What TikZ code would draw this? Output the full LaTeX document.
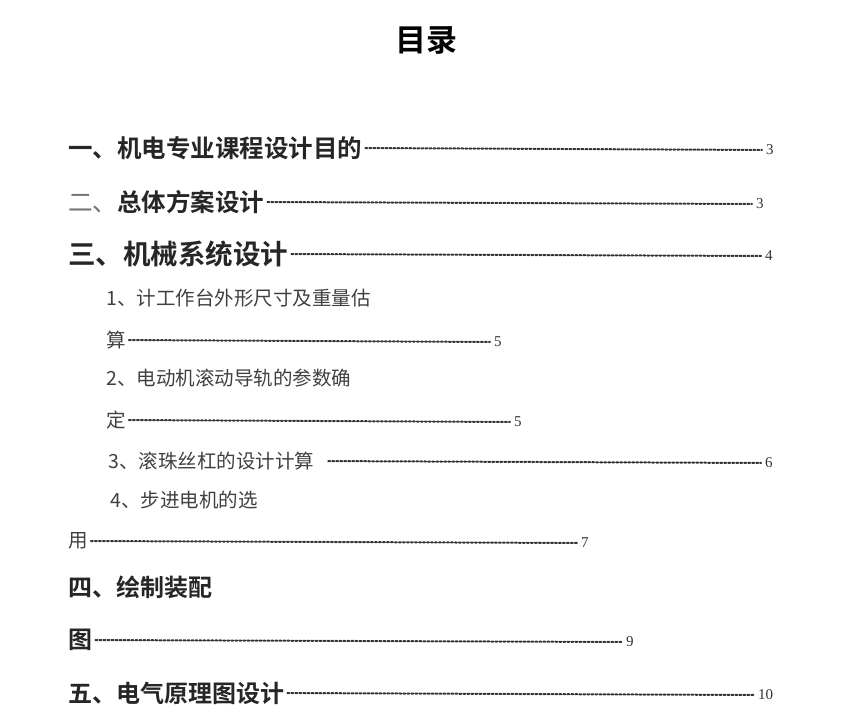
\documentclass[tikz,border=0pt]{standalone}
\usepackage{fontspec}
\setmainfont{Liberation Serif}
\newfontfamily\cjk{Noto Sans CJK SC}
\newfontfamily\cjkb{Noto Sans CJK SC Bold}
\usetikzlibrary{positioning}
\begin{document}
\begin{tikzpicture}[x=1pt,y=-1pt,
    head/.style={anchor=west,inner sep=0pt,font=\cjkb\fontsize{24.5}{24.5}\selectfont,text=black!85},
    sub/.style={anchor=west,inner sep=0pt,font=\cjk\fontsize{19.5}{19.5}\selectfont,text=black!75},
    page/.style={anchor=west,inner sep=0pt,font=\fontsize{15}{15}\selectfont,text=black!80},
    leader/.style={dotted,line width=2pt,line cap=round,black!80,shorten <=3pt,shorten >=4pt}]
\useasboundingbox (0,0) rectangle (866,709);

\node[inner sep=0pt,font=\cjkb\fontsize{31}{31}\selectfont] (title) at (426,40) {目录};

% chapter one
\node[head] (c1) at (68,148) {一、机电专业课程设计目的};
\node[page] (p1) at (766,150) {3};
\draw[leader] (c1.east) -- (p1.west);
% chapter two
\node[head] (c2) at (68,202) {{\cjk\color{black!55}二、}总体方案设计};
\node[page] (p2) at (756,204) {3};
\draw[leader] (c2.east) -- (p2.west);
% chapter three
\node[head,font=\cjkb\fontsize{27.5}{27.5}\selectfont] (c3) at (68,254) {三、机械系统设计};
\node[page] (p3) at (765,256) {4};
\draw[leader] (c3.east) -- (p3.west);
% sections
\node[sub] (s1) at (106,298) {1、计工作台外形尺寸及重量估};
\node[sub] (s1b) at (106,340) {算};
\node[page] (p4) at (494,342) {5};
\draw[leader] (s1b.east) -- (p4.west);
\node[sub] (s2) at (106,378) {2、电动机滚动导轨的参数确};
\node[sub] (s2b) at (106,420) {定};
\node[page] (p5) at (514,422) {5};
\draw[leader] (s2b.east) -- (p5.west);
\node[sub] (s3) at (108,461) {3、滚珠丝杠的设计计算};
\node[page] (p6) at (765,463) {6};
\draw[leader,shorten <=14pt] (s3.east) -- (p6.west);
\node[sub] (s4) at (110,500) {4、步进电机的选};
\node[sub] (s4b) at (68,541) {用};
\node[page] (p7) at (581,543) {7};
\draw[leader] (s4b.east) -- (p7.west);
% chapter four
\node[head,font=\cjkb\fontsize{24}{24}\selectfont] (c4) at (68,587) {四、绘制装配};
\node[head,font=\cjkb\fontsize{24}{24}\selectfont] (c4b) at (68,640) {图};
\node[page] (p8) at (626,642) {9};
\draw[leader] (c4b.east) -- (p8.west);
% chapter five
\node[head,font=\cjkb\fontsize{24}{24}\selectfont] (c5) at (68,693) {五、电气原理图设计};
\node[page] (p9) at (758,695) {10};
\draw[leader] (c5.east) -- (p9.west);
\end{tikzpicture}
\end{document}
